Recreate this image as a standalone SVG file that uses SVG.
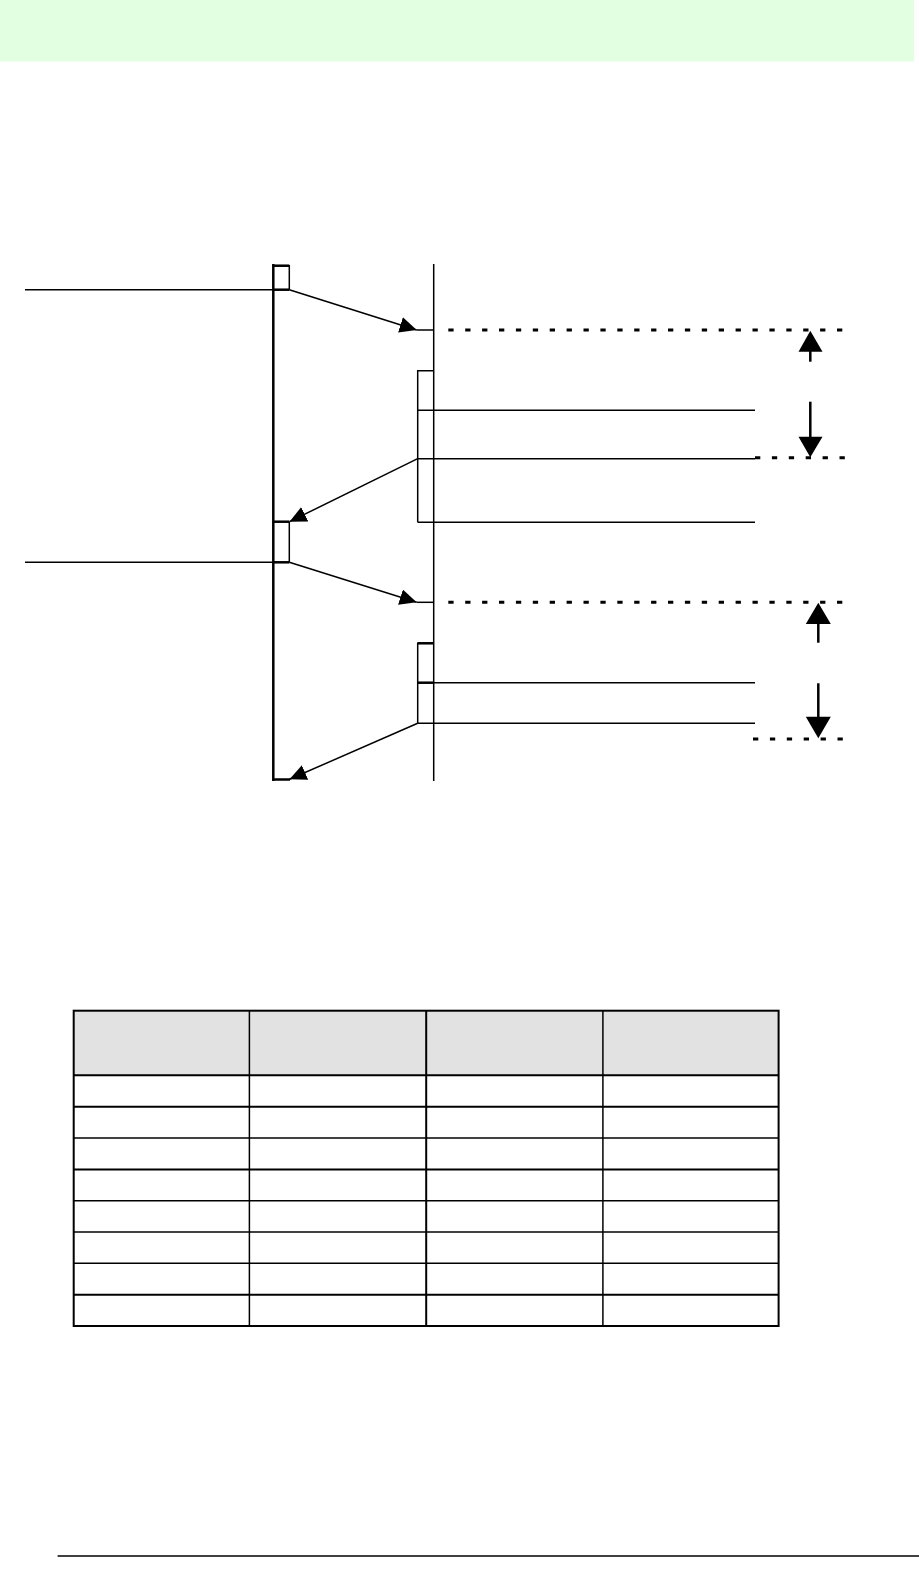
<svg xmlns="http://www.w3.org/2000/svg" width="919" height="1583" viewBox="0 0 919 1583">
<style>
.ln{stroke:#000;stroke-width:1.5;fill:none}
.thk{stroke:#000;stroke-width:2.5;fill:none}
.dash{stroke:#000;stroke-width:3;fill:none;stroke-dasharray:5.3 11.6}
.arr{stroke:#000;stroke-width:1.5;fill:none;marker-end:url(#ah)}
.varr{stroke:#000;stroke-width:2.5;fill:none}
.tb{stroke:#000;fill:none}
</style>
<defs>
<marker id="ah" viewBox="0 0 17 16" refX="17" refY="8" markerWidth="17" markerHeight="16" markerUnits="userSpaceOnUse" orient="auto">
<path d="M0,0 L17,8 L0,16 Z" fill="#000"/>
</marker>
</defs>
<rect x="0" y="0" width="914" height="61.5" fill="#e2ffe2"/>
<g id="lifeline-left">
<line class="thk" x1="273.3" y1="264" x2="273.3" y2="781" stroke-width="3"/>
</g>
<g id="lifeline-right">
<line class="ln" x1="433.7" y1="264" x2="433.7" y2="781" stroke-width="2"/>
</g>
<g id="box-left-1">
<path class="ln" d="M273.3,265.7 H289.3 V289.7"/>
<line class="thk" x1="273.3" y1="265.7" x2="289.3" y2="265.7"/>
<line class="thk" x1="273.3" y1="289.7" x2="289.3" y2="289.7"/>
<line class="ln" x1="25" y1="289.7" x2="273.3" y2="289.7"/>
</g>
<g id="box-left-2">
<path class="ln" d="M289.3,521.7 V562.3"/>
<line class="thk" x1="273.3" y1="521.7" x2="289.3" y2="521.7"/>
<line class="thk" x1="273.3" y1="562.3" x2="289.3" y2="562.3"/>
<line class="ln" x1="25" y1="562.3" x2="273.3" y2="562.3"/>
</g>
<g id="box-right-1">
<path class="ln" d="M433.7,370.7 H417.7 V522.3"/>
<line class="ln" x1="417.7" y1="410.3" x2="755" y2="410.3"/>
<line class="ln" x1="417.7" y1="458.7" x2="755" y2="458.7"/>
<line class="ln" x1="417.7" y1="522.3" x2="755" y2="522.3"/>
</g>
<g id="box-right-2">
<path class="ln" d="M417.7,723.3 V643.3 H433.7"/>
<line class="thk" x1="417.7" y1="643.3" x2="433.7" y2="643.3"/>
<line class="thk" x1="417.7" y1="682.7" x2="433.7" y2="682.7"/>
<line class="ln" x1="433.7" y1="682.7" x2="755" y2="682.7"/>
<line class="ln" x1="417.7" y1="723.3" x2="755" y2="723.3"/>
</g>
<g id="connectors">
<line class="arr" x1="289.3" y1="289.7" x2="416.7" y2="330"/>
<line class="ln" x1="416.7" y1="330" x2="433.7" y2="330"/>
<line class="arr" x1="417.7" y1="458.7" x2="289.5" y2="521.7"/>
<line class="arr" x1="289.3" y1="562.3" x2="416.7" y2="602.3"/>
<line class="ln" x1="416.7" y1="602.3" x2="433.7" y2="602.3"/>
<line class="arr" x1="417.7" y1="723.3" x2="289.5" y2="779.3"/>
<line class="thk" x1="273.3" y1="779.5" x2="290" y2="779.5"/>
<line class="dash" x1="448.3" y1="330" x2="845" y2="330"/>
<line class="dash" x1="755" y1="457.7" x2="845" y2="457.7"/>
<line class="dash" x1="448.3" y1="602.3" x2="845" y2="602.3"/>
<line class="dash" x1="753" y1="739" x2="845" y2="739"/>
<line class="varr" x1="810.3" y1="361.7" x2="810.3" y2="350"/>
<path d="M810.3,330.7 L822.5,351.7 L798.5,351.7 Z" fill="#000"/>
<line class="varr" x1="810.3" y1="401.7" x2="810.3" y2="438"/>
<path d="M810.3,457.3 L822.5,436.7 L798.5,436.7 Z" fill="#000"/>
<line class="varr" x1="818.3" y1="642.7" x2="818.3" y2="622"/>
<path d="M818.3,602.7 L830.8,624 L805.8,624 Z" fill="#000"/>
<line class="varr" x1="818.3" y1="683.3" x2="818.3" y2="718"/>
<path d="M818.3,738.3 L830.8,716.7 L805.8,716.7 Z" fill="#000"/>
</g>
<g id="table">
<rect x="73.7" y="1010.7" width="704.9" height="64.6" fill="#e2e2e2"/>
<g class="tb" stroke-width="1.5">
<line x1="73.7" y1="1138.1" x2="778.6" y2="1138.1"/>
<line x1="73.7" y1="1200.7" x2="778.6" y2="1200.7"/>
<line x1="73.7" y1="1232" x2="778.6" y2="1232"/>
<line x1="73.7" y1="1263.3" x2="778.6" y2="1263.3"/>
<line x1="249.4" y1="1010.7" x2="249.4" y2="1326"/>
<line x1="602.9" y1="1010.7" x2="602.9" y2="1326"/>
</g>
<g class="tb" stroke-width="2">
<line x1="73.7" y1="1075.3" x2="778.6" y2="1075.3"/>
<line x1="73.7" y1="1106.8" x2="778.6" y2="1106.8"/>
<line x1="73.7" y1="1169.4" x2="778.6" y2="1169.4"/>
<line x1="73.7" y1="1294.7" x2="778.6" y2="1294.7"/>
<line x1="426.2" y1="1010.7" x2="426.2" y2="1326"/>
<rect x="73.7" y="1010.7" width="704.9" height="315.3"/>
</g>
</g>
<line x1="57.6" y1="1556" x2="919" y2="1556" stroke="#000" stroke-width="1.5"/>
</svg>
